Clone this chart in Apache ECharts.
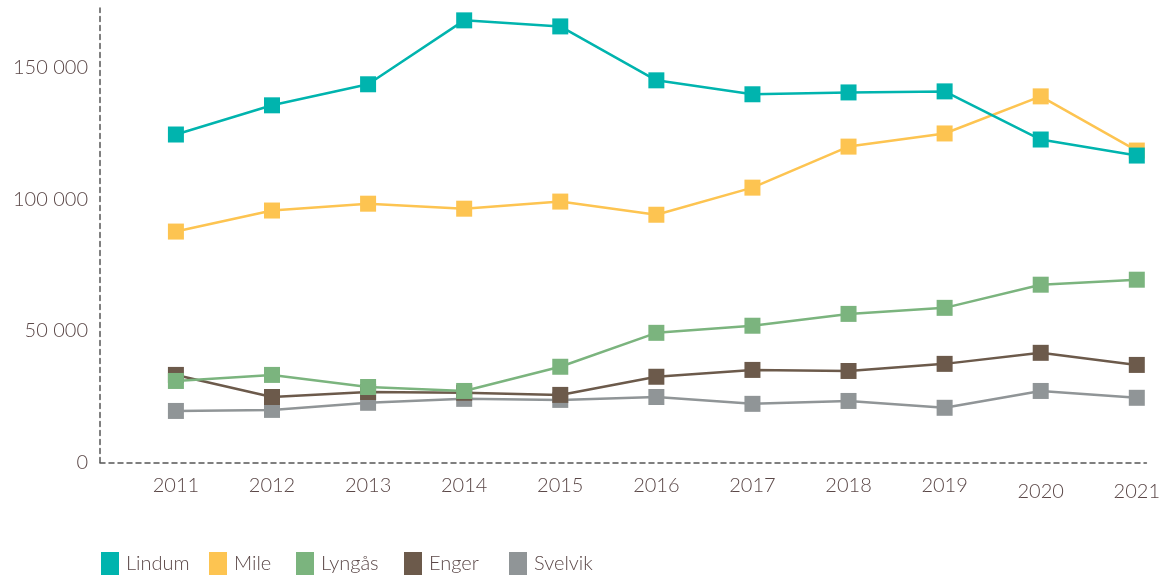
<!DOCTYPE html>
<html>
<head>
<meta charset="utf-8">
<script src="https://cdn.jsdelivr.net/npm/echarts@6/dist/echarts.min.js"></script>
<style>html,body{margin:0;padding:0;background:#fff}#c{width:1163px;height:575px}</style>
</head>
<body>
<div id="c"></div>
<script>
const years = [2011, 2012, 2013, 2014, 2015, 2016, 2017, 2018, 2019, 2020, 2021];
const yTicks = [0, 50000, 100000, 150000];
const lindum  = [124700, 135800, 143800, 168100, 165800, 145300, 140000, 140700, 141100, 122800, 116700];
const mile    = [87800, 95800, 98400, 96500, 99200, 94200, 104500, 120100, 125100, 139200, 118600];
const lyngaas = [31000, 33300, 28700, 27200, 36400, 49300, 52000, 56500, 58800, 67600, 69500];
const enger   = [33300, 24900, 26800, 26500, 25700, 32600, 35200, 34800, 37500, 41700, 37100];
const svelvik = [19600, 20000, 22700, 24200, 23800, 24900, 22300, 23400, 20800, 27200, 24600];
const names = ['Lindum', 'Mile', 'Lyngås', 'Enger', 'Svelvik'];
const colors = ['#00b4ae', '#fdc451', '#7bb47e', '#6c5a4b', '#909597'];
const values = [lindum, mile, lyngaas, enger, svelvik];
const legendLeft = [101, 209, 296, 404, 509];

const textColor = '#5b4848';
const fontFamily = 'Lato, "Open Sans", sans-serif';

const chart = echarts.init(document.getElementById('c'), null, {renderer: 'canvas'});
const series = names.map((n, i) => ({
  name: n,
  type: 'line',
  data: years.map((y, j) => [y, values[i][j]]),
  symbol: 'rect',
  symbolSize: 16,
  showSymbol: true,
  z: 10 - i,
  lineStyle: {width: 2.5, color: colors[i]},
  itemStyle: {color: colors[i]},
  emphasis: {disabled: true},
  animation: false
}));

const legends = names.map((n, i) => ({
  data: [n],
  left: legendLeft[i],
  bottom: 0,
  padding: 0,
  icon: 'rect',
  itemWidth: 18,
  itemHeight: 23,
  selectedMode: false,
  textStyle: {color: textColor, fontSize: 20, fontWeight: 300, fontFamily: fontFamily, padding: [0, 0, 0, 2]}
}));

chart.setOption({
  animation: false,
  color: colors,
  grid: {left: 100, right: 16, top: 8, bottom: 112.5, containLabel: false},
  xAxis: {
    type: 'value',
    min: 2010.21,
    max: 2021.1,
    splitLine: {show: false},
    axisLine: {show: true, onZero: false, lineStyle: {color: '#555', width: 1.5, type: [5, 4]}},
    axisTick: {show: false},
    axisLabel: {
      customValues: years,
      color: textColor,
      fontSize: 20,
      fontWeight: 300,
      fontFamily: fontFamily,
      margin: 13,
      formatter: v => (v >= 2020 ? '{low|' + v + '}' : String(v)),
      rich: {low: {color: textColor, fontSize: 20, fontWeight: 300, fontFamily: fontFamily, padding: [6, 0, 0, 0]}}
    }
  },
  yAxis: {
    type: 'value',
    min: 0,
    max: 172800,
    splitLine: {show: false},
    axisLine: {show: true, lineStyle: {color: '#555', width: 1.5, type: [5, 4]}},
    axisTick: {show: false},
    axisLabel: {
      customValues: yTicks,
      color: textColor,
      fontSize: 20,
      fontWeight: 300,
      fontFamily: fontFamily,
      margin: 12,
      formatter: v => String(v).replace(/\B(?=(\d{3})+(?!\d))/g, ' ')
    }
  },
  legend: legends,
  series: series
});
</script>
</body>
</html>
